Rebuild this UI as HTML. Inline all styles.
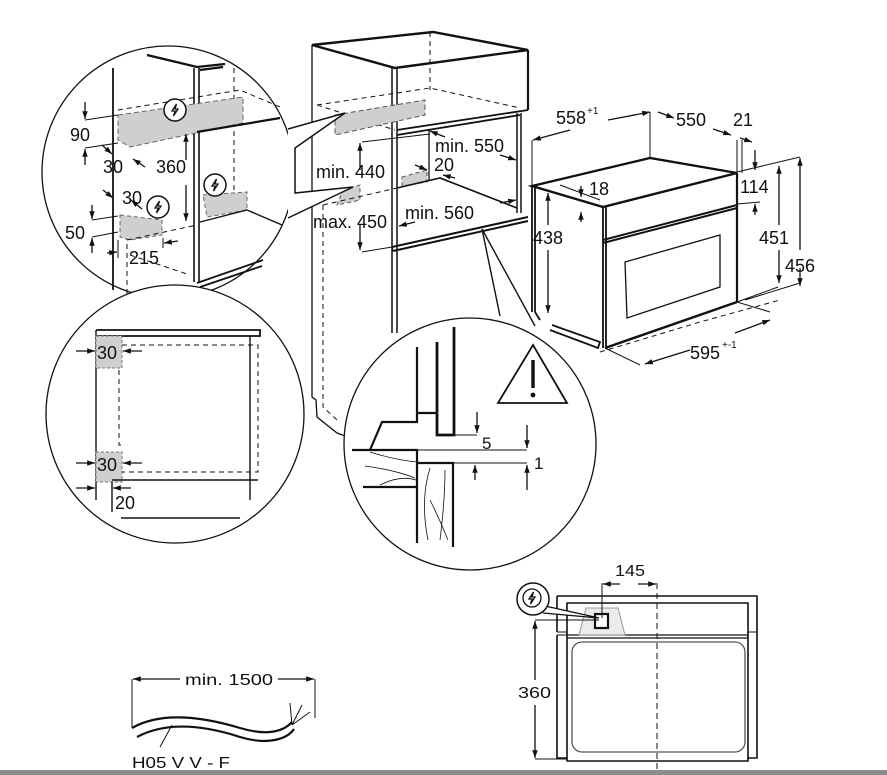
<!DOCTYPE html>
<html><head><meta charset="utf-8"><style>
html,body{margin:0;padding:0;background:#fff;}
svg{display:block;}
text{font-family:"Liberation Sans",sans-serif;fill:#111;}
</style></head><body>
<svg width="887" height="775" viewBox="0 0 887 775" xmlns="http://www.w3.org/2000/svg">
<defs>
<marker id="a" viewBox="0 0 10 10" refX="10" refY="5" markerWidth="6" markerHeight="6" orient="auto-start-reverse"><path d="M0,1.5 L10,5 L0,8.5 z" fill="#111"/></marker>
<g id="bolt"><path d="M1.5,-6 L-3,1 L0,1 L-1.5,6 L3,-1 L0,-1 z" fill="none" stroke="#111" stroke-width="1.3"/></g>
</defs>
<g stroke="#111" fill="none" stroke-width="1.3">

<!-- ===== Main cabinet ===== -->
<path d="M312,45 L433,32 L528,50 L395,68 Z" stroke-width="2.4"/>
<path d="M312,45 L312,397 L316,400 L317,417 L337,433 L345,436"/>
<path d="M392,68 L392,333 M397,68 L397,333" stroke-width="1.5"/>
<path d="M528,50 L528,110" stroke-width="2.2"/>
<path d="M397,130 L528,110 M397,135 L520,115" stroke-width="1.8"/>
<path d="M517,113 L517,213 M521,113 L521,213" stroke-width="1.5"/>
<path d="M430,32 L430,90" stroke-dasharray="5,4" stroke-width="1"/>
<path d="M317,105 L430,88 L520,108 M317,105 L395,130" stroke-dasharray="5,4" stroke-width="1"/>
<polygon points="335,115 425,100 425,115 335,135" fill="#cfcfcf" stroke="#555" stroke-dasharray="5,3" stroke-width="1"/>
<polygon points="402,177 427,170 427,182 402,186" fill="#cfcfcf" stroke="#555" stroke-dasharray="4,3" stroke-width="1"/>
<polygon points="343,190 360,185 360,200 337,205" fill="#cfcfcf" stroke="#555" stroke-dasharray="4,3" stroke-width="1"/>
<path d="M429,130 L429,180"/>
<path d="M397,188 L440,178 L517,208" stroke-width="1.6"/>
<path d="M323,205 L397,188" stroke-dasharray="5,4" stroke-width="1"/>
<path d="M323,205 L323,407 L337,420" stroke-dasharray="5,4" stroke-width="1"/>
<path d="M392,247 L528,217 M393,251 L528,221" stroke-width="2"/>
<path d="M392,247 L393,251"/>
<path d="M362,142 L430,134 M362,252 L392,247" stroke-width="1"/>
<line x1="360" y1="170" x2="360" y2="143" marker-end="url(#a)"/>
<line x1="360" y1="225" x2="360" y2="250" marker-end="url(#a)"/>
<line x1="445" y1="137" x2="430" y2="131" marker-end="url(#a)"/>
<line x1="500" y1="155" x2="516" y2="160" marker-end="url(#a)"/>
<line x1="415" y1="165" x2="427" y2="170" marker-end="url(#a)"/>
<line x1="455" y1="178" x2="443" y2="175" marker-end="url(#a)"/>
<line x1="500" y1="203" x2="516" y2="200" marker-end="url(#a)"/>
<line x1="415" y1="222" x2="399" y2="226" marker-end="url(#a)"/>
<path d="M500,316 L482,229 L535,326" fill="#fff" stroke-width="1.4"/>

<!-- ===== Oven (right) ===== -->
<path d="M532,186 L650,158 L737,173 L603,207 Z" fill="#fff" stroke-width="2.4"/>
<path d="M532,186 L532,312 M535,186 L535,312" stroke-width="1.8"/>
<path d="M603,207 L603,348 M606,207 L606,348" stroke-width="1.8"/>
<path d="M737,173 L737,302" stroke-width="2.2"/>
<path d="M605,348 L737,302" stroke-width="2.4"/>
<path d="M603,240 L737,205 M603,243 L737,208" stroke-width="2"/>
<path d="M625,262 L720,235 L720,287 L627,318 Z" stroke-width="1.3"/>
<path d="M535,312 L540,320 M552,325 L600,342 L598,348 L550,330" stroke-width="1.8"/>
<path d="M532,186 L532,140 M650,158 L650,112 M737,173 L737,140 M742,173 L742,140" stroke-width="1"/>
<line x1="570" y1="130" x2="533" y2="140" marker-end="url(#a)"/>
<line x1="608" y1="120" x2="650" y2="112" marker-end="url(#a)"/>
<line x1="658" y1="112" x2="674" y2="118" marker-end="url(#a)"/>
<line x1="713" y1="129" x2="731" y2="135" marker-end="url(#a)"/>
<line x1="740" y1="138" x2="752" y2="142" marker-end="url(#a)"/>
<line x1="755" y1="150" x2="755" y2="170" marker-end="url(#a)"/>
<line x1="755" y1="215" x2="755" y2="204" marker-end="url(#a)"/>
<path d="M737,172 L800,157 M737,204 L760,202 M737,302 L778,287 M745,300 L800,283" stroke-width="1"/>
<line x1="779" y1="225" x2="779" y2="166" marker-end="url(#a)"/>
<line x1="779" y1="250" x2="779" y2="283" marker-end="url(#a)"/>
<line x1="800" y1="250" x2="800" y2="158" marker-end="url(#a)"/>
<line x1="800" y1="268" x2="800" y2="286" marker-end="url(#a)"/>
<line x1="581" y1="186" x2="581" y2="197" marker-end="url(#a)"/>
<line x1="581" y1="222" x2="581" y2="212" marker-end="url(#a)"/>
<path d="M560,185 L600,200" stroke-width="1"/>
<line x1="548" y1="225" x2="548" y2="193" marker-end="url(#a)"/>
<line x1="548" y1="250" x2="548" y2="313" marker-end="url(#a)"/>
<path d="M605,348 L640,365 M737,302 L770,312" stroke-width="1"/>
<path d="M600,352 L700,322 L780,300" stroke-dasharray="5,4" stroke-width="1"/>
<line x1="690" y1="350" x2="645" y2="364" marker-end="url(#a)"/>
<line x1="735" y1="333" x2="770" y2="320" marker-end="url(#a)"/>

<!-- ===== Circle 1 ===== -->
<circle cx="168" cy="172" r="126" fill="#fff"/>
<path d="M113,68 L113,290" stroke-width="1.8"/>
<path d="M127,235 L127,298" stroke-dasharray="5,4" stroke-width="1"/>
<path d="M194,68 L194,282 M199,68 L199,282" stroke-width="1.6"/>
<path d="M147,55 L197,67 L225,64 M200,70 L223,67" stroke-width="2.2"/>
<path d="M234,68 L234,213" stroke-dasharray="5,4" stroke-width="1"/>
<path d="M118,110 L240,90 L280,107" stroke-dasharray="5,4" stroke-width="1"/>
<polygon points="118,115 243,97 243,123 130,147 118,140" fill="#cfcfcf" stroke="#666" stroke-dasharray="5,3" stroke-width="1"/>
<path d="M197,132 L280,118" stroke-width="2.2"/>
<polygon points="203,195 247,192 247,210 207,217" fill="#cfcfcf" stroke="#666" stroke-dasharray="4,3" stroke-width="1"/>
<path d="M200,222 L247,210 L282,225" stroke-width="1.4"/>
<polygon points="120,215 162,220 162,235 130,240 120,237" fill="#cfcfcf" stroke="#666" stroke-dasharray="4,3" stroke-width="1"/>
<path d="M127,240 L197,225" stroke-dasharray="5,4" stroke-width="1"/>
<path d="M197,283 L263,260 M200,287 L262,266" stroke-width="1.8"/>
<path d="M130,255 L190,275" stroke-dasharray="5,4" stroke-width="1"/>
<circle cx="175" cy="110" r="11" fill="#fff" stroke-width="1.5"/><use href="#bolt" x="175" y="110"/>
<circle cx="215" cy="185" r="11" fill="#fff" stroke-width="1.5"/><use href="#bolt" x="215" y="185"/>
<circle cx="158" cy="207" r="11" fill="#fff" stroke-width="1.5"/><use href="#bolt" x="158" y="207"/>
<path d="M85,120 L118,115 M85,148 L118,143" stroke-width="1"/>
<line x1="85" y1="102" x2="85" y2="119" marker-end="url(#a)"/>
<line x1="85" y1="165" x2="85" y2="149" marker-end="url(#a)"/>
<line x1="102" y1="145" x2="112" y2="154" marker-end="url(#a)"/>
<line x1="145" y1="167" x2="133" y2="159" marker-end="url(#a)"/>
<line x1="186" y1="160" x2="186" y2="134" marker-end="url(#a)"/>
<line x1="186" y1="185" x2="186" y2="221" marker-end="url(#a)"/>
<line x1="103" y1="190" x2="113" y2="198" marker-end="url(#a)"/>
<line x1="142" y1="209" x2="131" y2="200" marker-end="url(#a)"/>
<path d="M92,220 L118,216 M92,237 L118,232 M163,238 L163,248 M118,240 L118,258" stroke-width="1"/>
<line x1="92" y1="205" x2="92" y2="219" marker-end="url(#a)"/>
<line x1="92" y1="253" x2="92" y2="238" marker-end="url(#a)"/>
<line x1="107" y1="253" x2="117" y2="252" marker-end="url(#a)"/>
<line x1="178" y1="241" x2="164" y2="243" marker-end="url(#a)"/>
<path d="M288,129 L345,113 L295,148 L295,193 L353,187 L288,218" fill="#fff" stroke-width="1.5"/>

<!-- ===== Circle 2 ===== -->
<circle cx="175" cy="414" r="129" fill="#fff"/>
<path d="M96,330 L260,330 L260,336 L96,336" stroke-width="1.8"/>
<path d="M96,330 L96,500 M250,336 L250,500" stroke-width="1.4"/>
<rect x="96" y="336" width="26" height="32" fill="#cfcfcf" stroke="#777" stroke-dasharray="3,2" stroke-width="1"/>
<rect x="96" y="452" width="26" height="30" fill="#cfcfcf" stroke="#777" stroke-dasharray="3,2" stroke-width="1"/>
<path d="M122,345 L258,345 L258,472 L122,472 M119,370 L119,445 L122,445" stroke-dasharray="5,4" stroke-width="1"/>
<path d="M112,480 L258,480" stroke-width="1.4"/>
<path d="M112,482 L112,512" stroke-width="1.4"/>
<path d="M121,518 L240,518" stroke-width="1.4"/>
<line x1="76" y1="351" x2="95" y2="351" marker-end="url(#a)"/>
<line x1="142" y1="351" x2="123" y2="351" marker-end="url(#a)"/>
<line x1="76" y1="463" x2="95" y2="463" marker-end="url(#a)"/>
<line x1="142" y1="463" x2="123" y2="463" marker-end="url(#a)"/>
<line x1="76" y1="488" x2="95" y2="488" marker-end="url(#a)"/>
<line x1="131" y1="488" x2="113" y2="488" marker-end="url(#a)"/>

<!-- ===== Warning circle ===== -->
<circle cx="470" cy="444" r="126" fill="#fff"/>
<path d="M417,347 L417,413 L437,413" stroke-width="2.2"/>
<path d="M437,342 L437,435 L454,435 L454,327" stroke-width="2.8"/>
<path d="M417,413 L417,422 L382,422 L370,450" stroke-width="2.2"/>
<path d="M352,450 L417,450 L417,543" stroke-width="2.2"/>
<path d="M417,463 L453,463 L453,547" stroke-width="2.2"/>
<path d="M363,487 L417,487" stroke-width="2.2"/>
<path d="M455,435 L477,435 M417,450 L527,450 M453,463 L527,463" stroke-width="1"/>
<path d="M370,452 Q395,460 417,462 M365,466 Q395,470 415,478 M380,485 Q400,475 416,480 M430,468 Q420,500 428,540 M445,470 Q445,500 440,540 M430,500 Q440,520 448,540" stroke-width="0.8"/>
<line x1="477" y1="412" x2="477" y2="433" marker-end="url(#a)"/>
<line x1="475" y1="480" x2="475" y2="465" marker-end="url(#a)"/>
<line x1="527" y1="425" x2="527" y2="448" marker-end="url(#a)"/>
<line x1="527" y1="490" x2="527" y2="465" marker-end="url(#a)"/>
<path d="M533,345 L567,403 L498,403 Z" stroke-width="1.8"/>
<path d="M533,360 L533,388" stroke-width="3.4"/>
<circle cx="533" cy="395" r="2.4" fill="#111" stroke="none"/>

<!-- ===== Bottom right front view ===== -->
<path d="M557,596 L757,596 L757,610 M557,596 L557,632 M557,635 L557,758 L567,758 M757,610 L757,758 L747,758" stroke-width="1.6"/>
<path d="M567,603 L748,603 L748,761 L567,761 Z" stroke-width="1.6"/>
<path d="M567,635 L748,635 M567,638 L748,638" stroke-width="1.3"/>
<path d="M557,632 L567,632 M748,632 L757,632 M557,635 L567,635" stroke-width="1"/>
<rect x="572" y="642" width="173" height="110" rx="10" stroke="#555"/>
<polygon points="586,608 618,608 625,635 579,635" fill="#ececec" stroke="#999" stroke-width="1"/>
<rect x="595" y="614" width="13" height="14" stroke-width="2.2" fill="#fff"/>
<path d="M657,583 L657,775" stroke-dasharray="6,4" stroke-width="1"/>
<path d="M602,583 L602,618" stroke-width="1"/>
<line x1="620" y1="584" x2="603" y2="584" marker-end="url(#a)"/>
<line x1="638" y1="584" x2="656" y2="584" marker-end="url(#a)"/>
<path d="M535,620 L599,620 M535,759 L567,759" stroke-width="1"/>
<line x1="535" y1="680" x2="535" y2="621" marker-end="url(#a)"/>
<line x1="535" y1="705" x2="535" y2="758" marker-end="url(#a)"/>
<path d="M545,606 L599,618 L543,613" fill="#fff" stroke-width="1.3"/>
<circle cx="533" cy="599" r="16" fill="#fff" stroke-width="1.5"/>
<circle cx="532" cy="598" r="9" stroke-width="1.3"/><use href="#bolt" x="532" y="598"/>

<!-- ===== Cable ===== -->
<path d="M132,679 L132,728 M315,679 L315,718" stroke-width="1"/>
<line x1="180" y1="679" x2="133" y2="679" marker-end="url(#a)"/>
<line x1="278" y1="679" x2="314" y2="679" marker-end="url(#a)"/>
<path d="M132,728 C160,712 200,716 240,728 C270,737 285,730 292,722" stroke-width="2.2"/>
<path d="M137,737 C165,722 200,724 240,737 C270,746 288,738 294,729" stroke-width="2.2"/>
<path d="M292,725 L290,703 M292,725 L302,705 M292,725 L310,712" stroke-width="1"/>
<path d="M172,725 L160,747" stroke-width="1"/>
</g>

<g font-size="18">
<text x="316" y="178">min. 440</text>
<text x="313" y="228">max. 450</text>
<text x="435" y="152">min. 550</text>
<text x="434" y="171">20</text>
<text x="405" y="219">min. 560</text>
<text x="556" y="124">558</text><text x="587" y="114" font-size="10">+1</text>
<text x="676" y="126">550</text>
<text x="733" y="126">21</text>
<text x="589" y="195">18</text>
<text x="533" y="244">438</text>
<text x="740" y="193">114</text>
<text x="759" y="244">451</text>
<text x="785" y="272">456</text>
<text x="690" y="359">595</text><text x="722" y="348" font-size="10">+-1</text>
<text x="70" y="141">90</text>
<text x="103" y="173">30</text>
<text x="156" y="173">360</text>
<text x="122" y="204">30</text>
<text x="65" y="239">50</text>
<text x="129" y="264">215</text>
<text x="97" y="359">30</text>
<text x="97" y="471">30</text>
<text x="115" y="509">20</text>
<text x="482" y="449" font-size="17">5</text>
<text x="534" y="469" font-size="17">1</text>
</g>
<g font-size="16">
<text x="615" y="576" textLength="30" lengthAdjust="spacingAndGlyphs">145</text>
<text x="518" y="698" textLength="33" lengthAdjust="spacingAndGlyphs">360</text>
<text x="185" y="685" textLength="88" lengthAdjust="spacingAndGlyphs">min. 1500</text>
<text x="132" y="768" textLength="98" lengthAdjust="spacingAndGlyphs">H05 V V - F</text>
</g>
<rect x="0" y="770" width="887" height="5" fill="#8c8c8c"/>
</svg>
</body></html>
